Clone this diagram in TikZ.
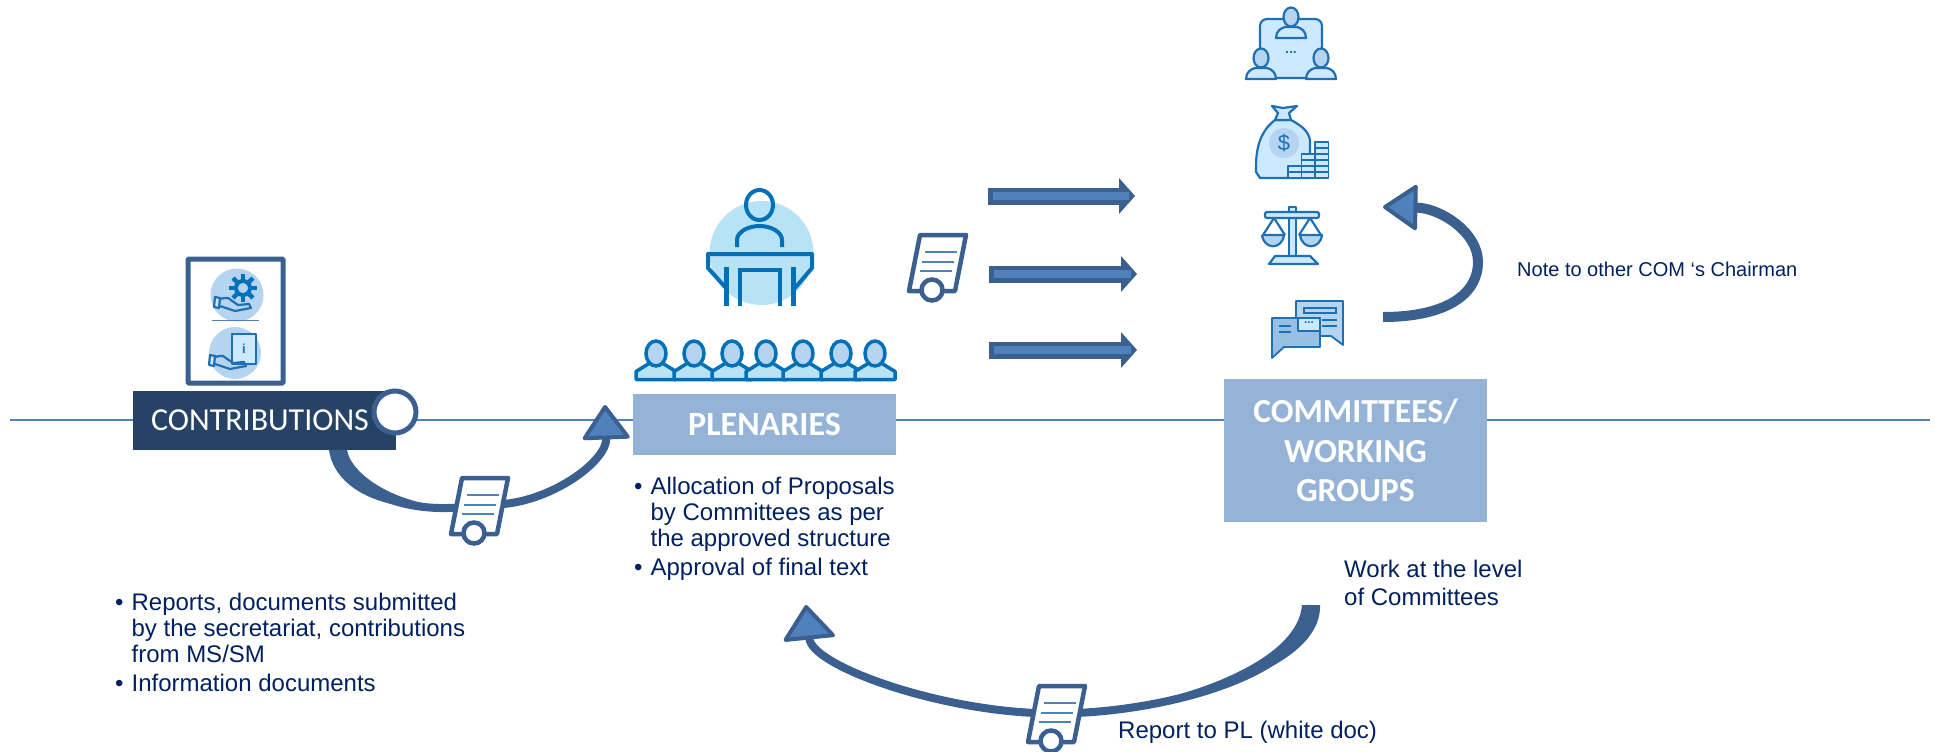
\documentclass[tikz,border=0pt]{standalone}
\usepackage{fontspec}
\setmainfont{Liberation Sans}
\newfontfamily\boxfont{Carlito}
\usetikzlibrary{arrows.meta,calc}
\definecolor{arrowdark}{HTML}{3B5F8F}
\definecolor{arrowfill}{HTML}{4F81BD}
\definecolor{boxnavy}{HTML}{264365}
\definecolor{boxlight}{HTML}{95B3D7}
\definecolor{textnavy}{HTML}{002060}
\definecolor{iconblue}{HTML}{0070B8}
\definecolor{iconline}{HTML}{1F6FB5}
\definecolor{iconpale}{HTML}{CCE9FF}
\definecolor{iconmid}{HTML}{B5D4F0}
\definecolor{podiumpale}{HTML}{B8E2F5}
\tikzset{
 px/.style={x=1pt,y=-1pt},
 boxnode/.style={inner sep=0pt,text=white,align=center},
 bodytext/.style={font=\fontsize{24}{26}\selectfont,text=textnavy,align=left,inner sep=0pt,anchor=north west},
 curvearrow/.style={draw=arrowdark,line width=8pt,-{Triangle[length=36pt,width=#1,fill=arrowfill,line width=4pt,round]}},
 curvetail/.style={draw=arrowdark,line width=8pt},
 flowarrow/.style={draw=arrowdark,line width=17pt,-{Triangle[length=16pt,width=36pt,fill=arrowdark,line width=0pt]},
  postaction={draw=arrowfill,line width=8pt,-,shorten <=5pt,shorten >=6pt}},
 iconstroke/.style={draw=iconline,line width=2.2pt,line join=round},
}
\newcommand{\docicon}[2]{%
 \node (#1) [inner sep=0pt] at (#2) {%
  \begin{tikzpicture}[px]%
   \useasboundingbox (-22,-30) rectangle (22,30);%
   \draw [arrowdark,fill=white,line width=4.5pt,line join=round] (-17,-28) -- (29,-28) -- (18,28) -- (-28,28) -- cycle;%
   \draw [arrowfill,line width=2.5pt] (-12,-11) -- (20,-11);%
   \draw [arrowfill,line width=2.5pt] (-15,-1) -- (17,-1);%
   \draw [arrowfill,line width=2.5pt] (-17,8) -- (15,8);%
   \draw [arrowdark,fill=white,line width=4.5pt] (-5,27) circle (10.5);%
  \end{tikzpicture}%
 } %
}
\newcommand{\seatperson}[2]{%
 \node (#1) [inner sep=0pt] at (#2) {%
  \begin{tikzpicture}[px]%
   \useasboundingbox (-18,-13) rectangle (18,27);%
   \draw [iconblue,fill=podiumpale,line width=3.5pt,line join=round] (-7,10) -- (-20,18) -- (-20,26) -- (20,26) -- (20,18) -- (7,10);%
   \draw [iconblue,fill=iconmid,line width=3.5pt] (0,0) ellipse (10 and 12.5);%
  \end{tikzpicture}%
 } %
}
\newcommand{\smallperson}[1]{%
 \draw [iconstroke,fill=iconpale] ($(#1)+(-15,21)$) .. controls ($(#1)+(-15,14)$) and ($(#1)+(-10,11)$) .. ($(#1)+(-6,10)$) -- ($(#1)+(6,10)$) .. controls ($(#1)+(10,11)$) and ($(#1)+(15,14)$) .. ($(#1)+(15,21)$) -- cycle;%
 \draw [iconstroke,fill=iconmid] (#1) ellipse (7.5 and 9.5);%
}
\newcommand{\handicon}[1]{%
 \begin{scope}[shift={(#1)}]%
  \draw [iconstroke,fill=iconpale] (0,0) -- (5,1) -- (4,11) -- (-1,10) -- cycle;%
  \draw [iconstroke] (5,2) .. controls (8,1) and (10,1) .. (13,1) -- (23,8) -- (34,7) -- (36,11) -- (20,14) -- (5,9);%
 \end{scope}%
}
\begin{document}
\begin{tikzpicture}[px]
   \useasboundingbox (0,0) rectangle (1935,752);
   \coordinate (lineL) at (10,420);
   \coordinate (lineR) at (1930,420);
   \draw[arrowfill,line width=1.7pt] (lineL) -- (lineR);
   % the three boxes on the line
   \node (contrib) [boxnode,fill=boxnavy,minimum width=263pt,minimum height=59pt,font=\boxfont\fontsize{32}{36}\selectfont] at (264.5,420.5) {\hspace*{-9pt}CONTRIBUTIONS};
   \node (seal) [draw=arrowdark,fill=white,line width=5pt,circle,minimum size=42pt,inner sep=0pt] at (395,412) {};
   \node (plen) [boxnode,fill=boxlight,minimum width=263pt,minimum height=61pt,font=\boxfont\bfseries\fontsize{34}{38}\selectfont] at (764.5,424.5) {PLENARIES};
   \node (comm) [boxnode,fill=boxlight,minimum width=263pt,minimum height=143pt,font=\boxfont\bfseries\fontsize{33.6}{39.5}\selectfont] at (1355.5,450.5) {COMMITTEES/\\WORKING\\GROUPS};
   % frame with the two hand icons
   \draw[arrowdark,line width=5pt,rounded corners=1pt] (188,259) rectangle (283,383);
   \fill[iconmid] (237,295) circle (26.5);
   \fill[iconmid] (235,353) circle (26);
   \draw[arrowfill,line width=1.6pt] (212,320.5) -- (259,320.5);
   \foreach \a in {0,45,...,315} \draw[iconblue,line width=4.5pt] ($(243,288)+(\a:8)$) -- ($(243,288)+(\a:14)$);
   \draw[iconblue,fill=iconmid,line width=4pt] (243,288) circle (7);
   \handicon{215,297}
   \draw[iconstroke,fill=iconpale] (232,334) rectangle (256,364);
   \node (infoi) [inner sep=0pt,text=iconline,font=\bfseries\fontsize{13}{13}\selectfont] at (244,349) {i};
   \handicon{210,355}
   % speaker at the podium
   \fill[podiumpale] (761.5,253) circle (52);
   \draw[iconblue,line width=4pt] (759.5,205) ellipse (13.5 and 15);
   \draw[iconblue,line width=4pt] (737,247) -- (737,240) .. controls (737,232) and (748,226) .. (759.5,226) .. controls (771,226) and (782,232) .. (782,240) -- (782,247);
   \draw[iconblue,line width=4pt,line join=round] (726,288) -- (708,268) -- (708,254) -- (812,254) -- (812,268) -- (795,288);
   \draw[iconblue,line width=5pt] (726,267) -- (726,306);
   \draw[iconblue,line width=5pt] (793.5,267) -- (793.5,306);
   \draw[iconblue,line width=4.5pt] (740,306) -- (740,270) -- (780,270) -- (780,306);
   \foreach \n/\x in {a/656,b/694,c/732,d/766,e/803,f/841,g/875} \seatperson{seat\n}{\x,360.5};
   % committee icons
   \draw[iconstroke,fill=iconpale,rounded corners=7pt] (1260,19) rectangle (1322,78);
   \smallperson{1291,17}
   \smallperson{1261,58}
   \smallperson{1321,58}
   \node (dots) [inner sep=0pt,text=iconline,font=\bfseries\fontsize{14}{14}\selectfont] at (1291,52) {...};
   \draw[iconstroke,fill=iconpale] (1275,120) .. controls (1255,135) and (1256,160) .. (1256,172) -- (1260,178) -- (1310,178) -- (1310,140) .. controls (1308,130) and (1300,125) .. (1291,120) -- cycle;
   \draw[iconstroke,fill=iconpale] (1275,120) -- (1278,113) -- (1272,106) -- (1283,108) -- (1297,106) -- (1289,113) -- (1291,120) -- cycle;
   \fill[iconmid] (1284,143) circle (15);
   \node (dollar) [inner sep=0pt,text=iconline,font=\fontsize{22}{22}\selectfont] at (1284,143) {\$};
   \foreach \x/\rows in {1288/{166,172},1301.5/{154,160,166,172},1315/{142,148,154,160,166,172}}
     \foreach \y in \rows \draw[iconstroke,fill=iconpale,line width=1.6pt] (\x,\y) rectangle (\x+13.5,\y+6);
   \draw[iconstroke,fill=iconpale] (1289,207) rectangle (1296,258);
   \draw[iconstroke,fill=iconpale,rounded corners=2pt] (1265,212) rectangle (1319,218);
   \draw[iconstroke,fill=iconpale] (1269,264) -- (1275,256) -- (1310,256) -- (1318,264) -- cycle;
   \draw[iconstroke] (1263,235) -- (1274,218) -- (1285,235);
   \draw[iconstroke] (1299,235) -- (1310,218) -- (1321,235);
   \draw[iconstroke,fill=iconmid] (1262,235) -- (1284,235) .. controls (1282,250) and (1264,250) .. (1262,235);
   \draw[iconstroke,fill=iconmid] (1300,235) -- (1322,235) .. controls (1320,250) and (1302,250) .. (1300,235);
   \draw[iconstroke,fill=iconmid,line width=1.8pt] (1296,301) -- (1343,301) -- (1343,345) -- (1331,336) -- (1296,336) -- cycle;
   \draw[iconline,line width=1.8pt] (1304,308) rectangle (1336,313);
   \draw[iconline,line width=1.5pt] (1322,320) -- (1337,320) (1322,326) -- (1337,326);
   \draw[iconstroke,fill=iconmid!80!iconline,line width=1.8pt] (1272,318) -- (1320,318) -- (1320,347) -- (1284,347) -- (1272,358) -- cycle;
   \draw[iconstroke,fill=iconpale,line width=1.8pt] (1298,318) rectangle (1320,331);
   \node (chatdots) [inner sep=0pt,text=iconline,font=\bfseries\fontsize{12}{12}\selectfont] at (1309,323) {...};
   \draw[iconline,line width=1.5pt] (1279,326) -- (1291,326) (1279,332) -- (1291,332);
   % documents on their way
   \docicon{docA}{479,506};
   \docicon{docB}{937,263};
   \docicon{docC}{1056,714};
   % report arrows
   \coordinate (tailA) at (338,450);
   \coordinate (tipA) at (605,405);
   \draw[curvetail] (tailA) .. controls (342,485) and (395,512) .. (docA);
   \fill[arrowdark] (329,450) .. controls (335,492) and (390,515) .. (docA.west) .. controls (405,508) and (352,478) .. (347,450) -- cycle;
   \draw[curvearrow=50pt] (docA) .. controls (555,500) and (607,460) .. (tipA);
   \coordinate (tailC) at (1311,605);
   \coordinate (tipC) at (806,605);
   \draw[curvetail] (tailC) .. controls (1311,670) and (1180,708) .. (docC);
   \fill[arrowdark] (1302,605) .. controls (1298,660) and (1190,702) .. (docC.east) .. controls (1185,706) and (1322,670) .. (1320,605) -- cycle;
   \draw[curvearrow=55pt] (docC) .. controls (930,708) and (812,665) .. (tipC);
   \coordinate (tailD) at (1383,317);
   \coordinate (midD) at (1478,262);
   \coordinate (tipD) at (1383,207);
   \draw[curvearrow=48pt,line width=10pt] (tailD) .. controls (1445,317) and (1478,295) .. (midD) .. controls (1478,232) and (1440,208) .. (tipD);
   % the three flow arrows
   \foreach \n/\y/\xs/\xe in {A/196/988/1135,B/274/989/1137,C/350/989/1137} {
     \coordinate (flow\n s) at (\xs,\y);
     \coordinate (flow\n e) at (\xe,\y);
     \draw[flowarrow] (flow\n s) -- (flow\n e);
   }
   % texts
   \node (leftlist) [bodytext] at (115,592) {\begin{tabular}{@{}l@{\hspace{8pt}}l@{}}\textbullet & Reports, documents submitted\\ & by the secretariat, contributions\\ & from MS/SM\\[3pt]\textbullet & Information documents\end{tabular}};
   \node (midlist) [bodytext] at (634,476) {\begin{tabular}{@{}l@{\hspace{8pt}}l@{}}\textbullet & Allocation of Proposals\\ & by Committees as per\\ & the approved structure\\[3pt]\textbullet & Approval of final text\end{tabular}};
   \node (worknote) [bodytext,font=\fontsize{24}{28}\selectfont] at (1344,560) {Work at the level\\of Committees};
   \node (reportnote) [bodytext] at (1118,720.5) {Report to PL (white doc)};
   \node (chairnote) [bodytext,font=\fontsize{20}{24}\selectfont] at (1517,261.5) {Note to other COM ‘s Chairman};
\end{tikzpicture}
\end{document}
